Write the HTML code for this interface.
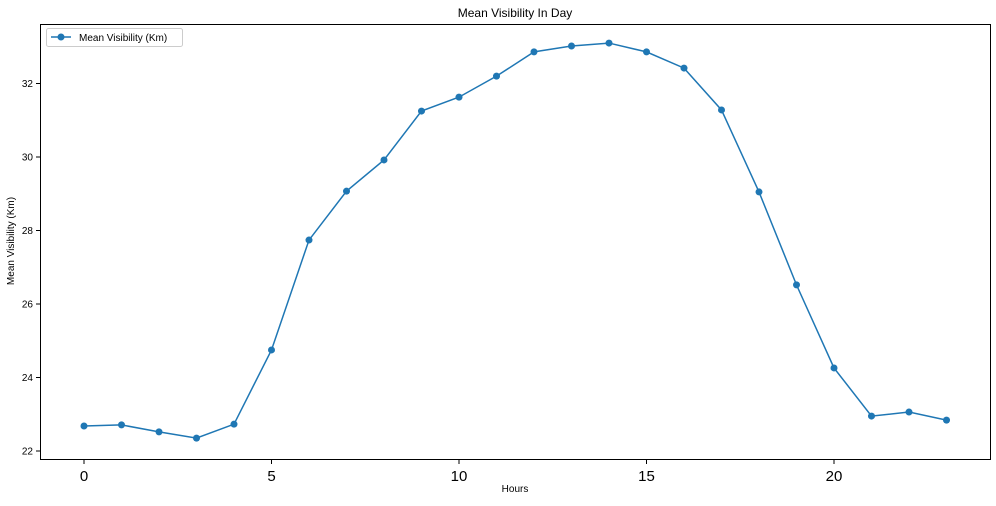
<!DOCTYPE html>
<html><head><meta charset="utf-8"><style>
body{margin:0;background:#fff;}
svg text{font-family:"Liberation Sans","DejaVu Sans",sans-serif;}
</style></head><body>
<svg id="chart" width="996" height="501" xmlns="http://www.w3.org/2000/svg">
<text x="515" y="17" text-anchor="middle" font-size="12">Mean Visibility In Day</text>
<text x="515" y="492" text-anchor="middle" font-size="10">Hours</text>
<text transform="translate(14,241) rotate(-90)" text-anchor="middle" font-size="10">Mean Visibility (Km)</text>
<g id="marks"></g>
<rect x="40.5" y="24.5" width="950" height="435" fill="none" stroke="#000" stroke-width="1"/>
<g>
<rect x="46.5" y="28.5" width="136" height="18" rx="2" fill="#fff" stroke="#ccc"/>
<line x1="51" y1="37" x2="71" y2="37" stroke="#1f77b4" stroke-width="1.5"/>
<circle cx="61" cy="37" r="3.5" fill="#1f77b4"/>
<text x="79" y="41" font-size="10">Mean Visibility (Km)</text>
</g>
</svg>
<script>
const hours=[0,1,2,3,4,5,6,7,8,9,10,11,12,13,14,15,16,17,18,19,20,21,22,23];
const visibility=[22.68,22.71,22.52,22.35,22.73,24.75,27.74,29.07,29.92,31.25,31.63,32.20,32.86,33.02,33.10,32.86,32.42,31.28,29.05,26.52,24.26,22.95,23.06,22.84];
const xTicks=[0,5,10,15,20];
const yTicks=[22,24,26,28,30,32];
const NS="http://www.w3.org/2000/svg";
const xs=v=>84+(v)*37.5;
const ys=v=>451-(v-22)*36.75;
const g=document.getElementById('marks');
function mk(t,a){const e=document.createElementNS(NS,t);for(const k in a)e.setAttribute(k,a[k]);g.appendChild(e);return e;}
xTicks.forEach(t=>{
 const l=mk('line',{x1:xs(t),x2:xs(t),y1:460,y2:464,stroke:'#000'});
 
 
 const tx=mk('text',{x:xs(t),y:481,'text-anchor':'middle','font-size':15});
 tx.textContent=t;
 
 
});
yTicks.forEach(t=>{
 const l=mk('line',{x1:36,x2:40,y1:ys(t),y2:ys(t),stroke:'#000'});
 
 
 const tx=mk('text',{x:33,y:ys(t)+3.5,'text-anchor':'end','font-size':10});
 tx.textContent=t;
 
 
});
const p=mk('polyline',{points:hours.map((h,i)=>xs(h)+','+ys(visibility[i])).join(' '),fill:'none',stroke:'#1f77b4','stroke-width':1.5});


hours.forEach((h,i)=>{
 const c=mk('circle',{cx:xs(h),cy:ys(visibility[i]),r:3.5,fill:'#1f77b4'});
 
 
});
</script>
</body></html>
